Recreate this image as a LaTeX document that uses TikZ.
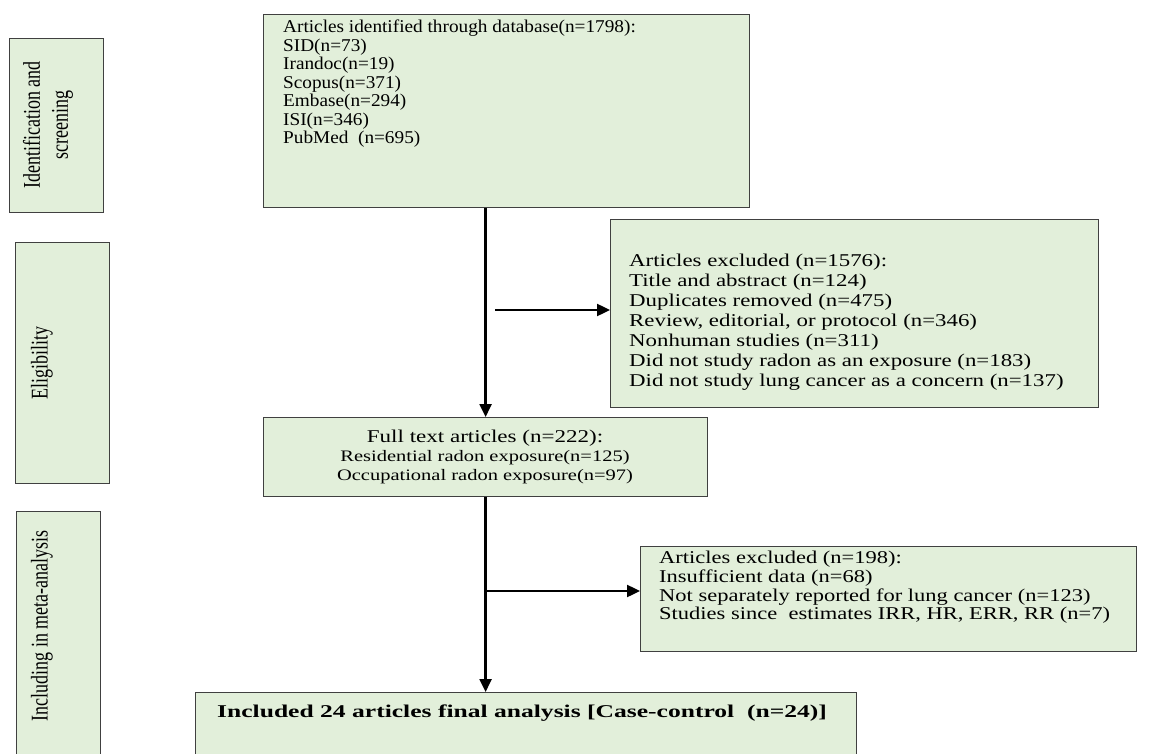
\documentclass[tikz,border=0pt]{standalone}
\usepackage{fontspec}
\setmainfont{Liberation Serif}
\newfontfamily\sidefont[FakeStretch=0.75]{Liberation Serif}
\newfontfamily\fontA[FakeStretch=1.07]{Liberation Serif}
\newfontfamily\fontB[FakeStretch=1.27]{Liberation Serif}
\newfontfamily\fontC[FakeStretch=1.28]{Liberation Serif}
\newfontfamily\fontD[FakeStretch=1.25]{Liberation Serif}
\newfontfamily\fontE[FakeStretch=1.42]{Liberation Serif}
\usetikzlibrary{arrows.meta}
\definecolor{boxfill}{RGB}{226,239,218}
\definecolor{boxline}{RGB}{64,64,64}
\tikzset{
  stagebox/.style={draw=boxline, fill=boxfill, line width=1.2pt, inner sep=0pt},
  txt/.style={inner sep=0pt, align=left, anchor=north west},
  sidelabel/.style={inner sep=0pt, align=center, rotate=90, font=\sidefont\fontsize{24}{28}\selectfont},
  arr/.style={line width=2.4pt, -{Triangle[length=13pt,width=12pt]}},
}
\begin{document}
\begin{tikzpicture}[x=1pt,y=-1pt]
\useasboundingbox (0,0) rectangle (1152,754);
% side stage boxes
\node[stagebox, minimum width=94pt, minimum height=174pt, anchor=north west] (s1) at (9,38) {};
\node[stagebox, minimum width=94pt, minimum height=241pt, anchor=north west] (s2) at (15,242) {};
\node[stagebox, minimum width=84pt, minimum height=250pt, anchor=north west] (s3) at (16,511) {};
\node[sidelabel] (l1) at (48,125) {Identification and\\screening};
\node[sidelabel] (l2) at (42,363) {Eligibility};
\node[sidelabel] (l3) at (42,626) {Including in meta-analysis};
% main boxes
\node[stagebox, minimum width=486pt, minimum height=193pt, anchor=north west] (top) at (263,14) {};
\node[stagebox, minimum width=488pt, minimum height=188pt, anchor=north west] (ex1) at (610,219) {};
\node[stagebox, minimum width=444pt, minimum height=79pt, anchor=north west] (full) at (263,417) {};
\node[stagebox, minimum width=496pt, minimum height=105pt, anchor=north west] (ex2) at (640,546) {};
\node[stagebox, minimum width=661pt, minimum height=80pt, anchor=north west] (final) at (195,692) {};
% texts
\node[txt, font=\fontA\fontsize{18}{18.5}\selectfont] (toptxt) at (283,20) {Articles identified through database(n=1798):\\SID(n=73)\\Irandoc(n=19)\\Scopus(n=371)\\Embase(n=294)\\ISI(n=346)\\PubMed\ \ (n=695)};
\node[txt, font=\fontB\fontsize{18}{20}\selectfont] (ex1txt) at (629,254) {Articles excluded (n=1576):\\Title and abstract (n=124)\\Duplicates removed (n=475)\\Review, editorial, or protocol (n=346)\\Nonhuman studies (n=311)\\Did not study radon as an exposure (n=183)\\Did not study lung cancer as a concern (n=137)};
\node[inner sep=0pt, align=center, font=\fontC\fontsize{18}{19}\selectfont] (fulltxt) at (485,457) {Full text articles (n=222):\\{\fontsize{16}{19}\selectfont Residential radon exposure(n=125)}\\{\fontsize{16}{19}\selectfont Occupational radon exposure(n=97)}};
\node[txt, font=\fontD\fontsize{18}{18.7}\selectfont] (ex2txt) at (659,551) {Articles excluded (n=198):\\Insufficient data (n=68)\\Not separately reported for lung cancer (n=123)\\Studies since\ \ estimates IRR, HR, ERR, RR (n=7)};
\node[inner sep=0pt, anchor=west, font=\fontE\bfseries\fontsize{18}{20}\selectfont] (finaltxt) at (217,713) {Included 24 articles final analysis [Case-control\ \ (n=24)]};
% connectors
\draw[arr] (full.north |- top.south) -- (full.north);
\draw[arr] (full.south) -- (full.south |- final.north);
\coordinate (h1) at (495,310);
\draw[arr] (h1) -- (h1 -| ex1.west);
\coordinate (h2) at (485,591);
\draw[arr] (h2) -- (h2 -| ex2.west);
\end{tikzpicture}
\end{document}
